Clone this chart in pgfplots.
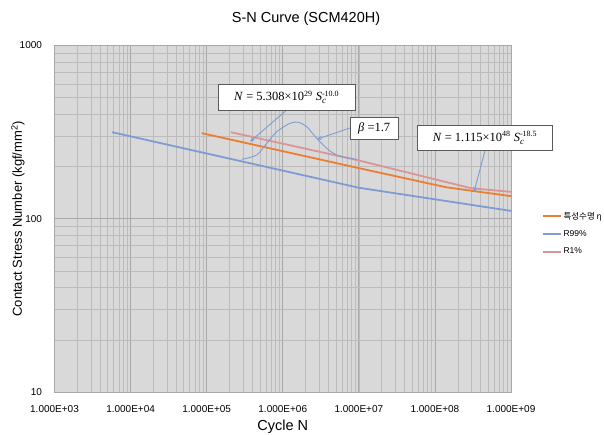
\documentclass[border=0pt]{standalone}
\usepackage{fontspec}
\usepackage{amsmath}
\setmainfont{Liberation Sans}
\newfontfamily\tnr{Liberation Serif}
\newfontfamily\kr{Noto Sans CJK KR}
\usepackage{pgfplots}
\pgfplotsset{compat=1.18}
\usetikzlibrary{arrows.meta}
\definecolor{cOrange}{RGB}{237,125,49}
\definecolor{cBlue}{RGB}{126,156,210}
\definecolor{cPink}{RGB}{218,150,150}
\definecolor{gridmaj}{RGB}{168,168,168}
\definecolor{gridmin}{RGB}{188,188,188}
\definecolor{bg}{RGB}{217,217,217}
\definecolor{boxline}{RGB}{90,90,90}

\begin{document}
\begin{tikzpicture}[x=1pt,y=1pt]
\begin{loglogaxis}[
  at={(54.5pt,42pt)}, anchor=south west, scale only axis,
  width=456.5pt, height=346.5pt,
  xmin=1e3, xmax=1e9, ymin=10, ymax=1000,
  axis background/.style={fill=bg},
  axis line style={gridmaj, line width=0.8pt},
  grid=both,
  major grid style={gridmaj, line width=0.8pt},
  minor grid style={gridmin, line width=0.6pt},
  major tick length=0pt, minor tick length=0pt,
  xtick={1e3,1e4,1e5,1e6,1e7,1e8,1e9},
  xticklabels={1.000E+03,1.000E+04,1.000E+05,1.000E+06,1.000E+07,1.000E+08,1.000E+09},
  ytick={10,100,1000}, yticklabels={10,100,1000},
  tick label style={font=\fontsize{10}{12}\selectfont},
  xticklabel style={yshift=-10pt},
  yticklabel style={xshift=-9pt},
  title={S-N Curve (SCM420H)},
  title style={font=\fontsize{14.5}{16}\selectfont, at={(axis description cs:0.551,1.059)}, anchor=center},
  xlabel={Cycle N},
  xlabel style={font=\fontsize{14.5}{16}\selectfont, at={(axis description cs:0.5,-0.1)}, anchor=center},
  ylabel={Contact Stress Number (kgf/mm\textsuperscript{2})},
  ylabel style={font=\fontsize{13}{15}\selectfont, at={(axis description cs:-0.08,0.5)}, anchor=center},
  legend style={draw=none, fill=none, at={(axis description cs:1.068,0.524)}, anchor=north west,
    font=\fontsize{8.5}{10}\selectfont, row sep=7pt, inner sep=0pt,
    nodes={inner sep=1.5pt}},
  legend cell align=left,
  legend image code/.code={\draw[#1] (0pt,0pt) -- (18pt,0pt);},
]
\addplot[cOrange, line width=1.8pt] coordinates {(8.6e4,312) (1e7,196) (1.4e8,152) (1e9,135)};
\addlegendentry{{\kr 특성수명 η}}
\addplot[cBlue, line width=1.8pt] coordinates {(5.7e3,316) (1e7,151) (1e9,111)};
\addlegendentry{R99\%}
\addplot[cPink, line width=1.8pt] coordinates {(2.07e5,316) (1e7,217) (3e8,150) (1e9,143)};
\addlegendentry{R1\%}
\end{loglogaxis}
% distribution sketch
\draw[cBlue, line width=0.9pt] plot[smooth] coordinates {(241.7,274.7) (256.7,279) (266.7,290.7) (276.7,302.3) (290,310.7) (298.3,311.7) (306.7,307.3) (316.7,295.7) (326.7,285.7) (336.7,279) (350,275.7) (356.7,274.7)};
% callout arrows
\draw[cBlue, line width=0.9pt, -{Stealth[length=5pt,width=4pt]}] (286.7,324) -- (250,292.3);
\draw[cBlue, line width=0.9pt, -{Stealth[length=5pt,width=4pt]}] (350,306) -- (316.7,294.7);
\draw[cBlue, line width=0.9pt, -{Stealth[length=5pt,width=4pt]}] (485,283.5) -- (474,242);
% boxes
\node[draw=boxline, fill=white, line width=0.8pt, minimum width=136.7pt, minimum height=25.7pt, inner sep=0pt, font=\tnr\fontsize{12.5}{14}\selectfont] at (286.7,336.9)
  {\textit{N} = 5.308×10$^{\text{\tnr\fontsize{8}{9}\selectfont 29}}$ \textit{S}$^{\text{\tnr\fontsize{8}{9}\selectfont -10.0}}_{\text{\tnr\itshape\fontsize{9}{9}\selectfont c}}$};
\node[draw=boxline, fill=white, line width=0.8pt, minimum width=48.3pt, minimum height=21.3pt, inner sep=0pt, font=\tnr\fontsize{12.5}{14}\selectfont] at (374.2,305.7)
  {\textit{β} =1.7};
\node[draw=boxline, fill=white, line width=0.8pt, minimum width=135.4pt, minimum height=25.4pt, inner sep=0pt, font=\tnr\fontsize{12.5}{14}\selectfont] at (485,296)
  {\textit{N} = 1.115×10$^{\text{\tnr\fontsize{8}{9}\selectfont 48}}$ \textit{S}$^{\text{\tnr\fontsize{8}{9}\selectfont -18.5}}_{\text{\tnr\itshape\fontsize{9}{9}\selectfont c}}$};
\pgfresetboundingbox
\path[use as bounding box] (0,0) rectangle (604,434);
\end{tikzpicture}
\end{document}
